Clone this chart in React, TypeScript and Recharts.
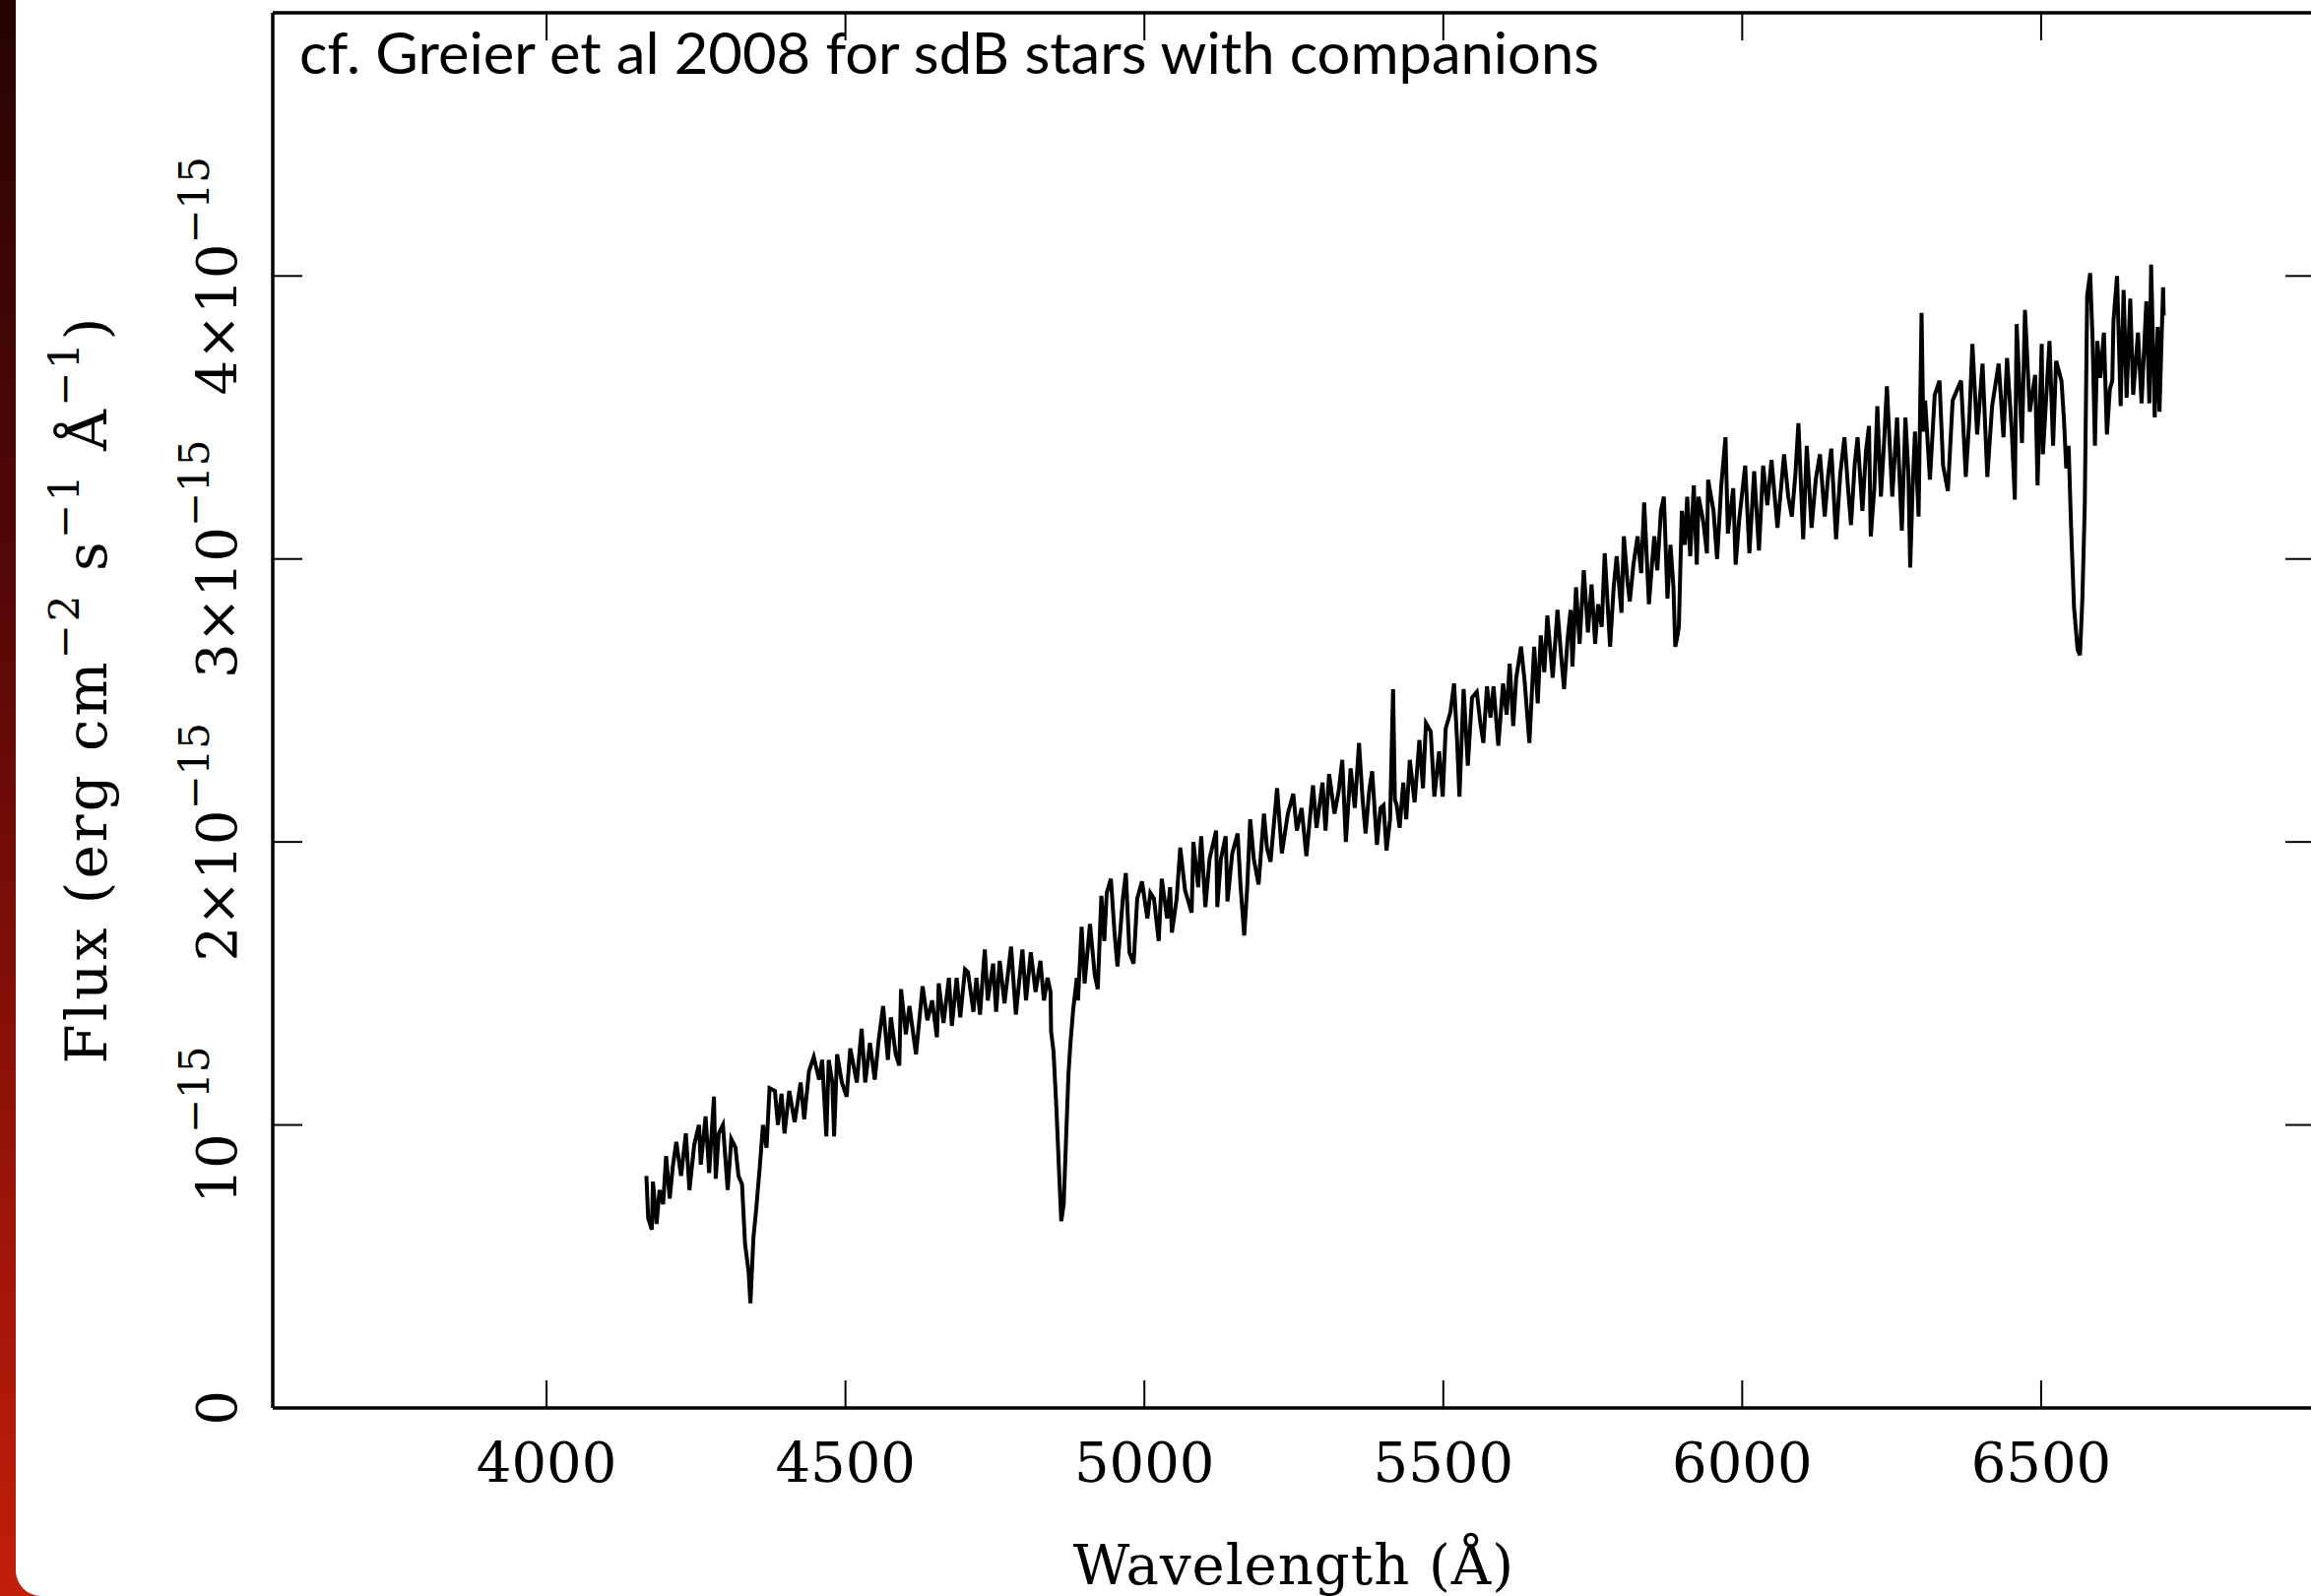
import { LineChart, Line, XAxis, YAxis } from "recharts";

// spectrum, flux in units of 1e-15 erg cm^-2 s^-1 A^-1
const waveHg = [
  4167, 4170, 4176, 4178, 4184, 4189, 4195, 4200, 4206, 4211,
  4217, 4225, 4233, 4239, 4247, 4255, 4258, 4266, 4272, 4280,
  4283, 4288, 4295, 4303, 4309, 4316, 4321, 4327, 4332, 4338,
  4341, 4346, 4351, 4357, 4362, 4368, 4373, 4382, 4387, 4393,
  4398, 4406, 4415, 4425, 4431, 4439, 4447, 4456, 4461, 4468,
  4472, 4478, 4481, 4486, 4494, 4502, 4508, 4519, 4527, 4533,
  4541, 4549, 4555, 4563, 4571, 4576, 4584, 4590, 4593, 4601,
  4607, 4618, 4629, 4637, 4645, 4653, 4656, 4664, 4673, 4678,
  4686, 4692, 4700,
];
const fluxHg = [
  0.82, 0.67, 0.63, 0.8, 0.65, 0.77, 0.72, 0.89, 0.74, 0.85,
  0.94, 0.82, 0.97, 0.77, 0.93, 1.0, 0.86, 1.03, 0.83, 1.1,
  0.81, 0.97, 1.0, 0.77, 0.95, 0.92, 0.82, 0.79, 0.58, 0.48,
  0.37, 0.6, 0.71, 0.86, 1.0, 0.92, 1.13, 1.12, 1.0, 1.11,
  0.97, 1.12, 1.01, 1.15, 1.02, 1.19, 1.24, 1.16, 1.23, 0.96,
  1.23, 1.15, 0.96, 1.25, 1.15, 1.1, 1.27, 1.15, 1.34, 1.15,
  1.29, 1.16, 1.29, 1.42, 1.23, 1.38, 1.25, 1.21, 1.48, 1.32,
  1.42, 1.25, 1.49, 1.37, 1.44, 1.31, 1.5, 1.36, 1.52, 1.35,
  1.52, 1.38, 1.55,
];

const waveHb = [
  4705, 4714, 4719, 4725, 4733, 4738, 4747, 4752, 4758, 4766,
  4777, 4785, 4796, 4802, 4810, 4818, 4826, 4832, 4838, 4843,
  4844, 4848, 4853, 4857, 4861, 4865, 4869, 4873, 4876, 4881,
  4887, 4889, 4895, 4900, 4909, 4917, 4922, 4928, 4933, 4937,
  4944, 4950, 4955, 4964, 4969, 4975, 4982, 4988, 4996, 5005,
  5010, 5016, 5024, 5029, 5038, 5043, 5046, 5054, 5060, 5068,
  5079, 5082, 5090, 5095, 5102, 5109, 5120, 5122, 5128, 5136,
  5139, 5147, 5156, 5161, 5167, 5172, 5177, 5183, 5191, 5200,
  5205, 5211, 5222,
];
const fluxHb = [
  1.54, 1.4, 1.52, 1.39, 1.62, 1.44, 1.57, 1.4, 1.58, 1.43,
  1.63, 1.39, 1.62, 1.44, 1.61, 1.47, 1.58, 1.44, 1.52, 1.47,
  1.33, 1.26, 1.05, 0.85, 0.66, 0.72, 0.95, 1.18, 1.28, 1.41,
  1.52, 1.44, 1.7, 1.5, 1.71, 1.53, 1.48, 1.81, 1.65, 1.82,
  1.87, 1.68, 1.56, 1.8, 1.89, 1.61, 1.57, 1.8, 1.86, 1.73,
  1.82, 1.8, 1.65, 1.87, 1.73, 1.84, 1.68, 1.8, 1.98, 1.83,
  1.75, 2.0, 1.84, 2.02, 1.77, 1.94, 2.04, 1.77, 1.94, 2.02,
  1.79, 1.96, 2.03, 1.84, 1.67, 1.84, 2.08, 1.94, 1.85, 2.1,
  1.98, 1.93, 2.19,
];

const waveMid = [
  5230, 5240, 5249, 5255, 5263, 5271, 5282, 5288, 5298, 5303,
  5309, 5318, 5325, 5331, 5337, 5345, 5352, 5359, 5365, 5370,
  5376, 5381, 5389, 5395, 5400, 5405, 5411, 5416, 5419, 5422,
  5427, 5433, 5438, 5444, 5452, 5460, 5466, 5471, 5479, 5485,
  5493, 5499, 5504, 5512, 5518, 5523, 5527, 5534, 5541, 5548,
  5556, 5562, 5567, 5573, 5579, 5584, 5592, 5600, 5606, 5611,
  5617, 5622, 5630, 5636, 5644, 5652, 5658, 5663, 5669, 5674,
  5683, 5691, 5697, 5702, 5708,
];
const fluxMid = [
  1.96, 2.1, 2.17, 2.04, 2.12, 1.95, 2.2, 2.05, 2.21, 2.04,
  2.24, 2.1, 2.18, 2.29, 2.0, 2.26, 2.12, 2.35, 2.15, 2.03,
  2.18, 2.25, 1.99, 2.12, 2.13, 1.97, 2.08, 2.54, 2.15, 2.13,
  2.05, 2.21, 2.08, 2.29, 2.14, 2.36, 2.19, 2.42, 2.39, 2.16,
  2.32, 2.16, 2.4, 2.46, 2.56, 2.36, 2.16, 2.54, 2.27, 2.51,
  2.53, 2.42, 2.35, 2.55, 2.44, 2.55, 2.34, 2.56, 2.45, 2.63,
  2.41, 2.58, 2.69, 2.57, 2.35, 2.69, 2.49, 2.73, 2.6, 2.8,
  2.58, 2.82, 2.66, 2.54, 2.72,
];

const waveNa = [
  5713, 5716, 5722, 5728, 5735, 5742, 5748, 5754, 5759, 5765,
  5770, 5779, 5785, 5790, 5798, 5802, 5808, 5812, 5818, 5825,
  5831, 5836, 5844, 5849, 5853, 5858, 5864, 5869, 5875, 5880,
  5885, 5888, 5891, 5894, 5899, 5904, 5908, 5913, 5919, 5924,
  5927, 5935, 5941, 5943, 5952, 5958, 5965, 5972, 5976, 5985,
  5989, 5995, 6005, 6012, 6020, 6028, 6035, 6042, 6049, 6059,
  6070, 6077, 6083, 6089, 6094, 6102, 6108, 6116, 6123, 6130,
  6138, 6144, 6149, 6157, 6164, 6171, 6177, 6182, 6188, 6193,
  6201, 6207, 6212, 6215,
];
const fluxNa = [
  2.82, 2.62, 2.9, 2.7, 2.96, 2.74, 2.91, 2.7, 2.84, 2.76,
  3.02, 2.69, 2.9, 3.01, 2.81, 3.08, 2.92, 2.85, 2.98, 3.08,
  2.95, 3.2, 2.84, 2.98, 3.08, 2.96, 3.17, 3.22, 2.86, 3.05,
  2.9, 2.69, 2.72, 2.76, 3.17, 3.05, 3.22, 3.01, 3.26, 2.98,
  3.22, 3.13, 3.02, 3.28, 3.17, 3.0, 3.26, 3.43, 3.09, 3.25,
  2.98, 3.14, 3.33, 3.02, 3.31, 3.03, 3.33, 3.19, 3.35, 3.11,
  3.37, 3.22, 3.15, 3.3, 3.48, 3.07, 3.4, 3.11, 3.28, 3.37,
  3.15, 3.3, 3.39, 3.07, 3.3, 3.43, 3.25, 3.12, 3.33, 3.43,
  3.17, 3.38, 3.47, 3.08,
];

const waveHa = [
  6221, 6226, 6232, 6237, 6242, 6251, 6259, 6267, 6273, 6278,
  6281, 6285, 6289, 6295, 6300, 6303, 6306, 6314, 6322, 6330,
  6336, 6344, 6352, 6358, 6366, 6374, 6380, 6385, 6393, 6402,
  6410, 6418, 6429, 6437, 6443, 6451, 6456, 6459, 6468, 6473,
  6481, 6490, 6494, 6501, 6503, 6514, 6520, 6525, 6534, 6538,
  6542, 6546, 6550, 6555, 6561, 6565, 6569, 6573, 6577, 6582,
  6586, 6590, 6594, 6599, 6605, 6610, 6615, 6619, 6621, 6627,
  6633, 6638, 6643, 6649, 6654, 6662, 6668, 6676, 6681, 6684,
  6690, 6695, 6698, 6704, 6705,
];
const fluxHa = [
  3.25, 3.54, 3.22, 3.4, 3.61, 3.22, 3.5, 3.1, 3.5, 3.3,
  2.97, 3.25, 3.45, 3.15, 3.87, 3.45, 3.56, 3.28, 3.58, 3.63,
  3.33, 3.24, 3.56, 3.59, 3.63, 3.29, 3.5, 3.76, 3.44, 3.69,
  3.29, 3.54, 3.69, 3.43, 3.71, 3.45, 3.21, 3.83, 3.41, 3.88,
  3.52, 3.65, 3.26, 3.76, 3.37, 3.77, 3.4, 3.7, 3.63, 3.5,
  3.32, 3.4, 3.12, 2.83, 2.68, 2.66, 2.86, 3.19, 3.93, 4.01,
  3.78, 3.4, 3.77, 3.64, 3.8, 3.44, 3.6, 3.63, 3.84, 4.0,
  3.54, 3.95, 3.57, 3.92, 3.58, 3.8, 3.55, 3.91, 3.55, 4.04,
  3.5, 3.82, 3.52, 3.96, 3.86,
];

const xTicks = [4000, 4500, 5000, 5500, 6000, 6500];
const yTicks = [0, 1, 2, 3, 4];
const yTickBase = ["0", "10", "2×10", "3×10", "4×10"];
const yTickExp = ["", "−15", "−15", "−15", "−15"];

const xDomain = [3542, 6958];
const yDomain = [0, 4.93];

const segments = [
  [waveHg, fluxHg],
  [waveHb, fluxHb],
  [waveMid, fluxMid],
  [waveNa, fluxNa],
  [waveHa, fluxHa],
];
const spectrum = segments.flatMap(([ws, fs]) => ws.map((w, i) => ({ w, f: fs[i] })));

const serif = "DejaVu Serif";

function BottomTick({ x, y, payload }: any) {
  return (
    <g>
      <line x1={x} x2={x} y1={y} y2={y - 28} stroke="#000" strokeWidth={2} />
      <text x={x} y={y + 75} textAnchor="middle" fontFamily={serif} fontSize={56} fill="#000">
        {payload.value}
      </text>
    </g>
  );
}

function TopTick({ x, y }: any) {
  return <line x1={x} x2={x} y1={y} y2={y + 28} stroke="#000" strokeWidth={2} />;
}

function LeftTick({ x, y, payload }: any) {
  const i = yTicks.indexOf(payload.value);
  const tx = 240;
  return (
    <g>
      <line x1={x} x2={x + 30} y1={y} y2={y} stroke="#000" strokeWidth={2} />
      <text
        x={tx}
        y={y}
        transform={`rotate(-90, ${tx}, ${y})`}
        textAnchor="middle"
        fontFamily={serif}
        fontSize={56}
        fill="#000"
      >
        <tspan>{yTickBase[i]}</tspan>
        {yTickExp[i] && (
          <tspan dy={-28} fontSize={42}>
            {yTickExp[i]}
          </tspan>
        )}
      </text>
    </g>
  );
}

function RightTick({ x, y }: any) {
  return <line x1={x} x2={x - 30} y1={y} y2={y} stroke="#000" strokeWidth={2} />;
}

export default function App() {
  const axisLine = { stroke: "#000", strokeWidth: 3.5 };
  return (
    <div
      style={{
        position: "absolute",
        left: 0,
        top: 0,
        width: 2347,
        height: 1621,
        overflow: "hidden",
        background: "linear-gradient(to bottom, #260303 0%, #5a0806 40%, #9a1408 75%, #c21e0a 100%)",
      }}
    >
      <div
        style={{
          position: "absolute",
          left: 16,
          top: 0,
          width: 2331,
          height: 1621,
          background: "#fff",
          borderBottomLeftRadius: 26,
        }}
      />
      <div style={{ position: "absolute", left: 0, top: 0 }}>
        <LineChart
          width={2400}
          height={1621}
          data={spectrum}
          margin={{ top: 12, right: 48, bottom: 190, left: 276 }}
        >
          <XAxis
            dataKey="w"
            type="number"
            domain={xDomain}
            ticks={xTicks}
            allowDataOverflow
            height={1}
            tickSize={0}
            tickMargin={0}
            tickLine={false}
            axisLine={axisLine}
            tick={BottomTick}
            interval={0}
          />
          <XAxis
            xAxisId="top"
            orientation="top"
            dataKey="w"
            type="number"
            domain={xDomain}
            ticks={xTicks}
            allowDataOverflow
            height={1}
            tickSize={0}
            tickMargin={0}
            tickLine={false}
            axisLine={axisLine}
            tick={TopTick}
            interval={0}
          />
          <YAxis
            type="number"
            domain={yDomain}
            ticks={yTicks}
            allowDataOverflow
            width={1}
            tickSize={0}
            tickMargin={0}
            tickLine={false}
            axisLine={axisLine}
            tick={LeftTick}
            interval={0}
          />
          <YAxis
            yAxisId="right"
            orientation="right"
            type="number"
            domain={yDomain}
            ticks={yTicks}
            allowDataOverflow
            width={1}
            tickSize={0}
            tickMargin={0}
            tickLine={false}
            axisLine={axisLine}
            tick={RightTick}
            interval={0}
          />
          <Line
            dataKey="f"
            type="linear"
            stroke="#000"
            strokeWidth={4}
            strokeLinejoin="miter"
            dot={false}
            activeDot={false}
            isAnimationActive={false}
          />
        </LineChart>
      </div>
      <svg
        width={2347}
        height={1621}
        style={{ position: "absolute", left: 0, top: 0, pointerEvents: "none" }}
      >
        <text
          x={304}
          y={75}
          fontFamily="Lato"
          fontSize={58}
          fill="#000"
          textLength={1320}
          lengthAdjust="spacingAndGlyphs"
        >
          cf. Greier et al 2008 for sdB stars with companions
        </text>
        <text
          x={1314}
          y={1609}
          textAnchor="middle"
          fontFamily={serif}
          fontSize={56}
          letterSpacing={1}
          fill="#000"
        >
          Wavelength (Å)
        </text>
        <text
          x={108}
          y={700}
          transform="rotate(-90, 108, 700)"
          textAnchor="middle"
          fontFamily={serif}
          fontSize={58}
          letterSpacing={3}
          fill="#000"
        >
          <tspan>Flux (erg cm</tspan>
          <tspan dy={-28} fontSize={42}>−2</tspan>
          <tspan dy={28}>  s</tspan>
          <tspan dy={-28} fontSize={42}>−1</tspan>
          <tspan dy={28}>  Å</tspan>
          <tspan dy={-28} fontSize={42}>−1</tspan>
          <tspan dy={28}>)</tspan>
        </text>
      </svg>
    </div>
  );
}
